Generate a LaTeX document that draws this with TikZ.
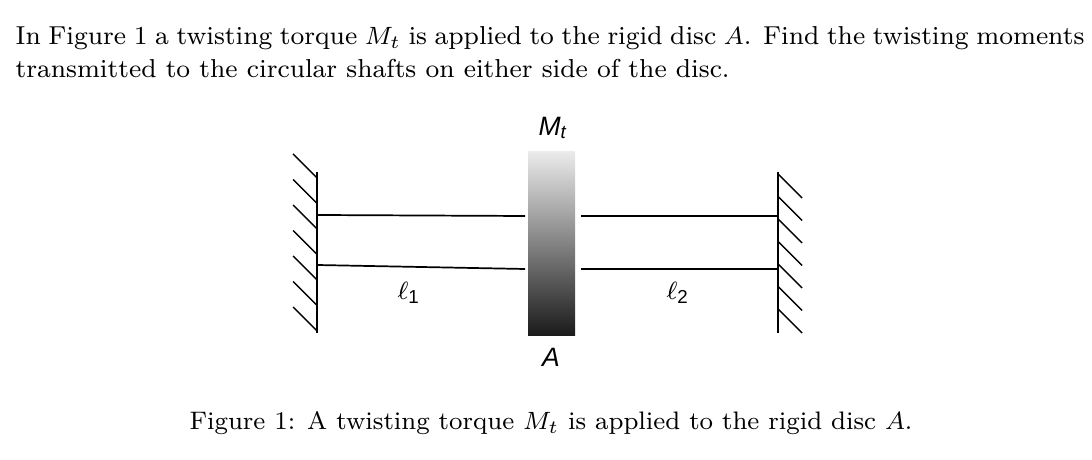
\documentclass[tikz,border=0pt]{standalone}
\usepackage{fontspec}
\newfontfamily\lab{Liberation Sans}
\begin{document}
\begin{tikzpicture}[x=0.32pt,y=-0.32pt,
  line/.style={line width=0.45pt},
  txt/.style={inner sep=0pt,anchor=base west,font=\fontsize{8.3}{10}\selectfont},
  lbl/.style={inner sep=0pt,font=\lab\itshape\fontsize{8.5}{10}\selectfont}]
\useasboundingbox (0,0) rectangle (1092,460);
\node[txt] (t1) at (15,45) {\makebox[342pt][s]{In Figure 1 a twisting torque $M_t$ is applied to the rigid disc $A$. Find the twisting moments}};
\node[txt] (t2) at (15,78) {transmitted to the circular shafts on either side of the disc.};
\node[txt,anchor=base,font=\fontsize{8.1}{10}\selectfont] (cap) at (551,430) {Figure 1: A twisting torque $M_t$ is applied to the rigid disc $A$.};
% walls
\coordinate (lwt) at (317,172); \coordinate (lwb) at (317,333);
\coordinate (rwt) at (778,172); \coordinate (rwb) at (778,333);
\draw[line width=0.6pt] (lwt) -- (lwb);
\draw[line width=0.6pt] (rwt) -- (rwb);
\foreach \i in {0,...,6}{
  \draw[line] (317-24,178+25.5*\i-24) -- (317,178+25.5*\i);
  \draw[line] (778,174+22.5*\i) -- (778+24,174+22.5*\i+24);
}
% disc
\node[draw=none,inner sep=0pt,minimum width=47*0.32pt,minimum height=184*0.32pt,
  top color=black!8,bottom color=black!90] (disc) at (551.5,244) {};
% shafts
\coordinate (a1) at (317,215); \coordinate (a2) at (525,216);
\coordinate (b1) at (317,265); \coordinate (b2) at (525,269);
\coordinate (c1) at (581,216); \coordinate (c2) at (778,216);
\coordinate (d1) at (581,269); \coordinate (d2) at (778,269);
\draw[line width=0.55pt] (a1) -- (a2);
\draw[line width=0.55pt] (b1) -- (b2);
\draw[line width=0.55pt] (c1) -- (c2);
\draw[line width=0.55pt] (d1) -- (d2);
\node[lbl] (mt) at (553,128) {M\textsubscript{\fontsize{6}{7}\selectfont t}};
\node[lbl] (A) at (551,357) {A};
\node[lbl] (l1) at (409,293) {$\ell$\textsubscript{\upshape\fontsize{6}{7}\selectfont 1}};
\node[lbl] (l2) at (678,293) {$\ell$\textsubscript{\upshape\fontsize{6}{7}\selectfont 2}};
\end{tikzpicture}
\end{document}
